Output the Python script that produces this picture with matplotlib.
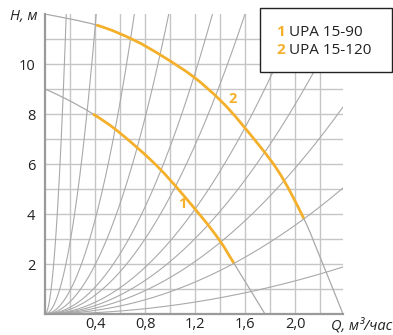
import matplotlib
matplotlib.use("Agg")
import matplotlib.pyplot as plt
import numpy as np
from matplotlib.path import Path
from matplotlib.patches import PathPatch, Rectangle

# ---------------- data ----------------
# pump curve 1 (UPA 15-90): Q [m3/h], H [m]
q1 = [0.0, 0.17, 0.384, 0.6, 0.92, 1.24, 1.4, 1.51, 1.76]
h1 = [9.0, 8.6, 8.0, 7.24, 5.8, 3.96, 2.92, 2.04, 0.0]
orange1 = (2, 7)          # index range of the highlighted part

# pump curve 2 (UPA 15-120)
q2 = [0.0, 0.41, 0.71, 0.95, 1.19, 1.4, 1.58, 1.86, 2.07, 2.2, 2.384]
h2 = [12.0, 11.56, 10.96, 10.28, 9.48, 8.56, 7.56, 5.76, 3.82, 2.28, 0.0]
orange2 = (1, 8)

# system curves (parabolas through origin), given by their end points
sys_q = [0.17, 0.41, 0.715, 0.99, 1.34, 1.60, 2.03, 2.384, 2.384, 2.384, 2.384]
sys_h = [12.0, 12.0, 12.0, 12.0, 12.0, 12.0, 12.0, 11.9, 8.28, 5.04, 1.88]

x_ticks = [0.4, 0.8, 1.2, 1.6, 2.0]
x_tick_labels = ["0,4", "0,8", "1,2", "1,6", "2,0"]
y_ticks = [2, 4, 6, 8, 10]
y_tick_labels = ["2", "4", "6", "8", "10"]
legend_nums = ["1", "2"]
legend_names = ["UPA 15-90", "UPA 15-120"]

# ---------------- style ----------------
ORANGE = "#F5B02B"
GRID = "#c6c6c6"
CURVE = "#a9a9a9"
SPINE = "#9a9a9a"
FONT = ["Open Sans", "DejaVu Sans"]

W, H = 393, 335
fig = plt.figure(figsize=(W / 100, H / 100), dpi=100)


def fx(x):
    return x / W


def fy(y):
    return 1 - y / H


ax_l, ax_r, ax_t, ax_b = 45, 343, 14, 314
ax = fig.add_axes([fx(ax_l), fy(ax_b), (ax_r - ax_l) / W, (ax_b - ax_t) / H])
ax.set_xlim(0, 2.384)
ax.set_ylim(0, 12)

for s in ["top", "right"]:
    ax.spines[s].set_visible(False)
for s in ["left", "bottom"]:
    ax.spines[s].set_color(SPINE)
    ax.spines[s].set_linewidth(1.6)
    ax.spines[s].set_zorder(5)

# grid
for gx in np.arange(1, 12) * 0.2:
    ax.axvline(gx, color=GRID, lw=1.0, zorder=1)
for gy in range(1, 12):
    ax.axhline(gy, color=GRID, lw=1.0, zorder=1)

# ticks
ax.set_xticks(x_ticks)
ax.set_xticklabels(x_tick_labels)
ax.set_yticks(y_ticks)
ax.set_yticklabels(y_tick_labels)
ax.tick_params(axis="x", length=0, labelsize=10.5, colors="#222222", pad=2.5)
ax.tick_params(axis="y", length=0, labelsize=10.5, colors="#222222", pad=7)
for lab in ax.get_xticklabels() + ax.get_yticklabels():
    lab.set_family(FONT)

# system curves
for qe, he in zip(sys_q, sys_h):
    qq = np.linspace(0, qe, 200)
    ax.plot(qq, he * (qq / qe) ** 2, color=CURVE, lw=0.8, zorder=2)


def smooth_path(xs, ys):
    pts = np.column_stack([xs, ys]).astype(float)
    n = len(pts)
    verts = [pts[0]]
    codes = [Path.MOVETO]
    for i in range(n - 1):
        p0 = pts[i - 1] if i > 0 else pts[i]
        p1 = pts[i]
        p2 = pts[i + 1]
        p3 = pts[i + 2] if i + 2 < n else pts[i + 1]
        c1 = p1 + (p2 - p0) / 6.0
        c2 = p2 - (p3 - p1) / 6.0
        verts += [c1, c2, p2]
        codes += [Path.CURVE4] * 3
    return Path(verts, codes)


def draw_pump(qs, hs, rng):
    pth = smooth_path(qs, hs)
    ax.add_patch(PathPatch(pth, fill=False, edgecolor=CURVE, lw=0.9, zorder=3))
    a, b = rng
    v = pth.vertices
    c = pth.codes
    sub_v = v[3 * a: 3 * b + 1]
    sub_c = [Path.MOVETO] + list(c[3 * a + 1: 3 * b + 1])
    ax.add_patch(PathPatch(Path(sub_v, sub_c), fill=False, edgecolor=ORANGE,
                           lw=2.0, zorder=4, capstyle="butt"))


draw_pump(q1, h1, orange1)
draw_pump(q2, h2, orange2)

# curve labels
ax.text(1.10, 4.4, legend_nums[0], color=ORANGE, fontsize=10.5, fontweight="bold",
        family=FONT, ha="center", va="center", zorder=6)
ax.text(1.50, 8.6, legend_nums[1], color=ORANGE, fontsize=10.5, fontweight="bold",
        family=FONT, ha="center", va="center", zorder=6)

# axis titles
fig.text(fx(37), fy(17), "H, м", fontsize=10.5, style="italic", family=FONT,
         ha="right", va="center", color="#222222")
fig.text(fx(392), fy(326), "Q, м³/час", fontsize=10.5, style="italic", family=FONT,
         ha="right", va="center", color="#222222")

# legend box
rect = Rectangle((fx(260), fy(72)), (392 - 260) / W, (72 - 8) / H,
                 transform=fig.transFigure, facecolor="white", edgecolor="#222222",
                 lw=1.0, zorder=10)
fig.patches.append(rect)
for i, (num, name) in enumerate(zip(legend_nums, legend_names)):
    yy = 32 + 18 * i
    fig.text(fx(276), fy(yy), num, color=ORANGE, fontsize=11, fontweight="bold",
             family=FONT, ha="left", va="center", zorder=11)
    fig.text(fx(289), fy(yy), name, color="#222222", fontsize=11, family=FONT,
             ha="left", va="center", zorder=11)

fig.savefig("out.png", dpi=100)
